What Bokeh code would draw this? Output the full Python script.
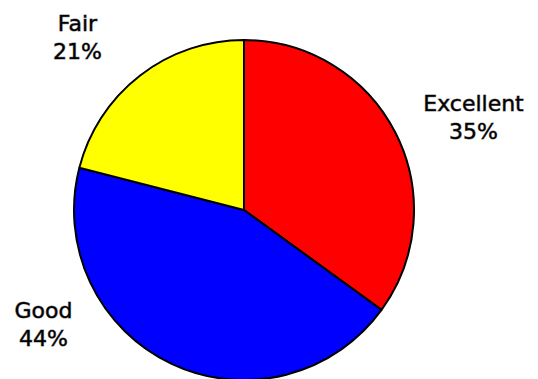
import math
from bokeh.plotting import figure
from bokeh.models import Range1d, ColumnDataSource
from bokeh.core.properties import value
from bokeh.embed import file_html
from bokeh.resources import INLINE

# data
categories = ["Excellent", "Good", "Fair"]
shares = [35, 44, 21]
colors = ["#FF0000", "#0000FF", "#FFFF00"]

# layout (page pixel coordinates)
W, H = 538, 379
cx, cy_page, radius = 243.5, 209.5, 170
label_x = [473, 43, 77]
label_base_page = [103, 310, 23]
line_gap = 28

total = float(sum(shares))
starts, ends = [], []
acc = 0.0
for s in shares:
    a0 = math.pi / 2 - 2 * math.pi * acc / total
    acc += s
    a1 = math.pi / 2 - 2 * math.pi * acc / total
    starts.append(a0)
    ends.append(a1)

cy = H - cy_page

p = figure(width=W, height=H, output_backend="svg", toolbar_location=None,
           x_range=Range1d(0, W), y_range=Range1d(0, H),
           min_border=0)
p.axis.visible = False
p.grid.visible = False
p.outline_line_color = None
p.background_fill_color = "white"
p.border_fill_color = "white"

src = ColumnDataSource(dict(start=starts, end=ends, color=colors, cat=categories))
p.wedge(x=cx, y=cy, radius=radius, start_angle="start", end_angle="end",
        direction="clock", fill_color="color", line_color="black", line_width=2,
        source=src)

pct = [f"{round(100 * s / total)}%" for s in shares]
ys1 = [H - b for b in label_base_page]
ys2 = [H - b - line_gap for b in label_base_page]
for ys, txt in ((ys1, categories), (ys2, pct)):
    p.text(x=label_x, y=ys, text=txt, text_align="center",
           text_baseline="alphabetic", text_font=value("DejaVu Sans"),
           text_font_size="22px", text_color="black",
           text_outline_color="rgba(0,0,0,0.5)")

open("out.html", "w").write(file_html(p, INLINE))
